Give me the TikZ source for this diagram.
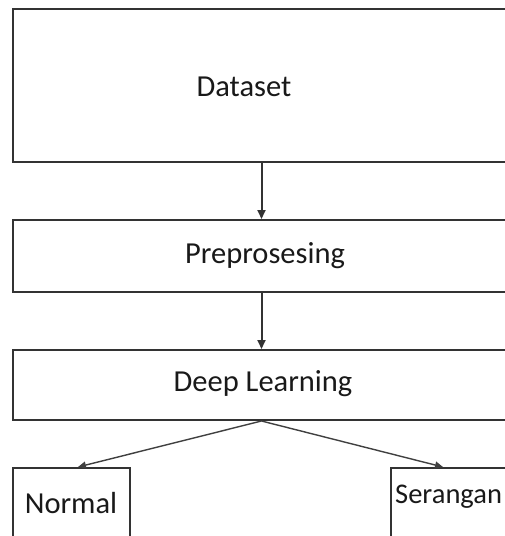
\documentclass[tikz,border=0pt]{standalone}
\usepackage{fontspec}
\setmainfont{Carlito}
\usetikzlibrary{arrows.meta}
\begin{document}
\begin{tikzpicture}[x=1pt,y=-1pt,
  boxstyle/.style={draw=black!80,line width=2pt,rectangle,inner sep=0pt},
  txt/.style={font=\fontsize{30.5}{36}\selectfont,text=black!90,inner sep=0pt,anchor=center},
  arr/.style={draw=black!80,line width=2pt,-{Triangle[length=9pt,width=8pt]}},
  darr/.style={draw=black!75,line width=1.4pt,-{Triangle[length=8pt,width=7pt]}}]
\useasboundingbox (0,0) rectangle (505,536);
\clip (0,0) rectangle (505,536);
\node[boxstyle,minimum width=497pt,minimum height=153pt] (ds) at (261.5,85.5) {};
\node[txt] (dst) at (244,87) {Dataset};
\node[boxstyle,minimum width=497pt,minimum height=72pt] (pp) at (261.5,256) {};
\node[txt] (ppt) at (265,256) {Preprosesing};
\node[boxstyle,minimum width=497pt,minimum height=70pt] (dl) at (261.5,385) {};
\node[txt] (dlt) at (263,384) {Deep Learning};
\node[boxstyle,minimum width=117pt,minimum height=120pt] (no) at (71.5,528) {};
\node[txt] (not) at (71,503) {Normal};
\node[boxstyle,minimum width=200pt,minimum height=120pt] (se) at (491,528) {};
\node[txt,anchor=west,font=\fontsize{28.5}{34}\selectfont] (set) at (395,497) {Serangan};
\draw[arr] (ds.south -| 261.5,0) -- (pp.north -| 261.5,0);
\draw[arr] (pp.south -| 261.5,0) -- (dl.north -| 261.5,0);
\coordinate (nl) at (78,467);
\coordinate (sr) at (443,467);
\draw[darr] (dl.south -| 261.5,0) -- (nl);
\draw[darr] (dl.south -| 261.5,0) -- (sr);
\end{tikzpicture}
\end{document}
